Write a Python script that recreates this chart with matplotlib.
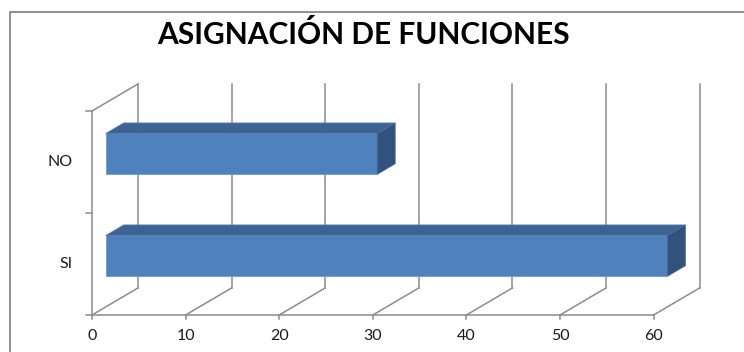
import numpy as np
import matplotlib.pyplot as plt
from matplotlib.patches import Polygon

# Datos
categorias = ['SI', 'NO']
valores = [60, 29]
ticks_x = [0, 10, 20, 30, 40, 50, 60]
titulo = 'ASIGNACIÓN DE FUNCIONES'

# Colores estilo Excel
c_frente = '#4F81BD'
c_arriba = '#3D6392'
c_lado = '#31527C'
c_grid = '#8C8C8C'

# Proyeccion oblicua: profundidad d en [0, 1]
DX = 4.915   # desplazamiento en unidades de valor
DY = 0.265   # desplazamiento en unidades de categoria


def proy(v, c, d):
    return (v + d * DX, c + d * DY)


fig = plt.figure(figsize=(7.44, 3.52), dpi=100)
ax = fig.add_axes([0, 0, 1, 1])
ax.set_xlim(-92 / 9.36, (744 - 92) / 9.36)
ax.set_ylim(-37 / 102, 315 / 102)
ax.axis('off')

fnt = 'Lato'
n = len(categorias)

# Lineas de division (pared del fondo y suelo)
for v in ticks_x:
    x0, y0 = proy(v, 0, 1)
    x1, y1 = proy(v, n, 1)
    ax.plot([x0, x1], [y0, y1], color=c_grid, lw=1.1, zorder=1)
    xa, ya = proy(v, 0, 0)
    ax.plot([xa, x0], [ya, y0], color=c_grid, lw=1.1, zorder=1)
    # marca del eje x
    ax.plot([v, v], [0, -0.04], color=c_grid, lw=1.1, zorder=1)
    ax.text(v, -0.21, str(v), ha='center', va='center', fontsize=11.5,
            family=fnt, color='#1a1a1a')

# Pared izquierda y eje
ax.plot([0, ticks_x[-1]], [0, 0], color=c_grid, lw=1.1, zorder=1)
ax.plot([0, 0], [0, n], color=c_grid, lw=1.1, zorder=1)
xt, yt = proy(0, n, 1)
ax.plot([0, xt], [n, yt], color=c_grid, lw=1.1, zorder=1)
for c in range(n + 1):
    ax.plot([-0.64, 0], [c, c], color=c_grid, lw=1.1, zorder=1)

# Barras 3D
d0, d1 = 0.30, 0.69
alto = 0.40
for i, (cat, val) in enumerate(zip(categorias, valores)):
    cb = i + 0.5 - alto / 2
    ct = i + 0.5 + alto / 2
    frente = [proy(0, cb, d0), proy(val, cb, d0), proy(val, ct, d0), proy(0, ct, d0)]
    arriba = [proy(0, ct, d0), proy(val, ct, d0), proy(val, ct, d1), proy(0, ct, d1)]
    lado = [proy(val, cb, d0), proy(val, cb, d1), proy(val, ct, d1), proy(val, ct, d0)]
    ax.add_patch(Polygon(frente, closed=True, fc=c_frente, ec='#6F9AD0', lw=0.6, zorder=3))
    ax.add_patch(Polygon(arriba, closed=True, fc=c_arriba, ec='#5A80B0', lw=0.6, zorder=3))
    ax.add_patch(Polygon(lado, closed=True, fc=c_lado, ec='#4A6A95', lw=0.6, zorder=3))
    ax.text(-2.1, i + 0.5, cat, ha='right', va='center', fontsize=11.5,
            family=fnt, color='#1a1a1a')

# Titulo
ax.text(0.489, 1 - 35 / 352, titulo, transform=ax.transAxes, ha='center',
        va='center', fontsize=21.5, fontweight='bold', family=fnt, color='black')

# Borde del area del grafico
bx = 10 / 744
by = 1 - 12 / 352
ax.plot([bx, bx, 1.0], [0, by, by], transform=ax.transAxes, color='#878787',
        lw=1.3, zorder=5, clip_on=False)

fig.savefig('out.png', dpi=100)
